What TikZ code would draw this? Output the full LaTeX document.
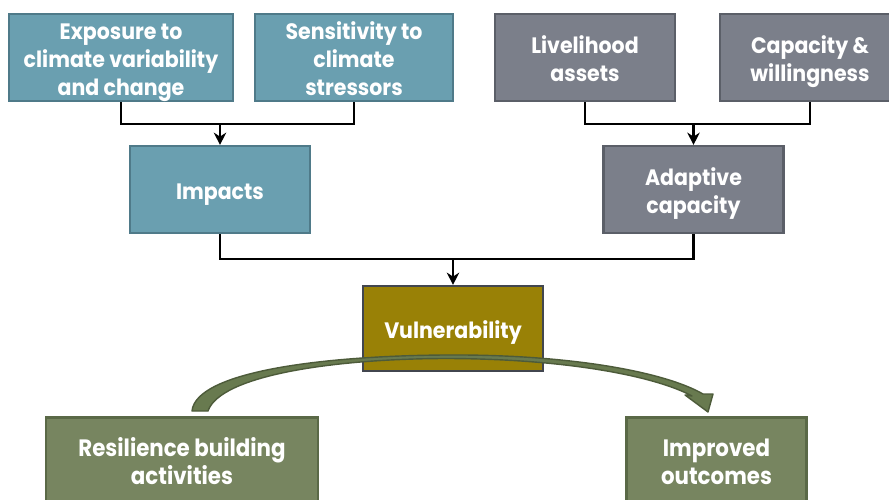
\documentclass[tikz,border=0pt]{standalone}
\usepackage{fontspec}
\setmainfont{Poppins}
\newfontfamily\wideboxfont{Poppins}[FakeStretch=0.92]
\newfontfamily\narrowfont{Poppins}[FakeStretch=0.9]
\usetikzlibrary{arrows.meta}

\definecolor{tealfill}{HTML}{6A9FB0}
\definecolor{tealline}{HTML}{4F7A89}
\definecolor{grayfill}{HTML}{7B7F8A}
\definecolor{grayline}{HTML}{5B5F68}
\definecolor{vulnfill}{HTML}{998106}
\definecolor{vulnline}{HTML}{42464F}
\definecolor{greenfill}{HTML}{778560}
\definecolor{greenline}{HTML}{5A6947}
\definecolor{arrowfill}{HTML}{687A4F}
\definecolor{arrowline}{HTML}{4D5B3A}

% centred lines, set a little low as in the slide
\newcommand\boxtext[1]{\raisebox{-2.4pt}[\height][\depth]{%
  \begin{tabular}{@{}c@{}}#1\end{tabular}}}

\tikzset{
  box/.style={draw, line width=1.2pt, text=white,
    minimum width=3.6cm, minimum height=1.74cm, inner xsep=2pt,
    inner ysep=0.5pt,
    font=\wideboxfont\bfseries\fontsize{12.7}{15.8}\selectfont},
  hazard/.style={box, fill=tealfill, draw=tealline},
  asset/.style={box, fill=grayfill, draw=grayline},
  core/.style={box, fill=vulnfill, draw=vulnline, minimum height=1.7cm},
  action/.style={box, fill=greenfill, draw=greenline,
    font=\narrowfont\bfseries\fontsize{13.5}{16}\selectfont},
  link/.style={line width=1.2pt},
  feed/.style={link, -{Stealth[length=7pt,width=7pt]}}
}

\begin{document}
\begin{tikzpicture}[x=0.02cm,y=-0.02cm]
\useasboundingbox (0,0) rectangle (889,500);

% top row
\node[hazard, minimum width=4.48cm] (expo) at (121,57.5)
  {\boxtext{Exposure to\\climate variability\\and change}};
\node[hazard, minimum width=3.96cm] (sens) at (354,57.5)
  {\boxtext{Sensitivity to\\climate\\stressors}};
\node[asset] (assets) at (585,57.5) {\boxtext{Livelihood\\assets}};
\node[asset] (will) at (810,57.5) {\boxtext{Capacity \&\\willingness}};

% middle row
\node[hazard] (impacts) at (220,189.5) {\boxtext{Impacts}};
\node[asset] (adapt) at (693.5,189.5) {\boxtext{Adaptive\\capacity}};
\node[core] (vuln) at (453,328.5) {\boxtext{Vulnerability}};

% bottom row
\node[action, minimum width=5.44cm] (resil) at (182,461)
  {\boxtext{Resilience building\\activities}};
\node[action] (outcome) at (716.5,461) {\boxtext{Improved\\outcomes}};

% elbow connectors
\coordinate (tl) at (220,124);
\coordinate (tr) at (693.5,124);
\coordinate (tm) at (453,259);
\draw[link] (expo.south) |- (tl) -| (sens.south);
\draw[feed] (tl) -- (impacts.north);
\draw[link] (assets.south) |- (tr) -| (will.south);
\draw[feed] (tr) -- (adapt.north);
\draw[link] (impacts.south) |- (tm) -| (adapt.south);
\draw[feed] (tm) -- (vuln.north);

% curved block arrow
\filldraw[fill=arrowfill, draw=arrowline, line width=0.8pt, line join=round]
  (192,411) .. controls (196,372) and (320,356) .. (444,355)
  .. controls (570,354) and (665,372) .. (703,394)
  -- (713,394) -- (708,412) -- (685,395) -- (692,396)
  .. controls (655,376) and (565,358.5) .. (444,358.5)
  .. controls (330,359) and (220,376) .. (208,411) -- cycle;

\end{tikzpicture}
\end{document}
